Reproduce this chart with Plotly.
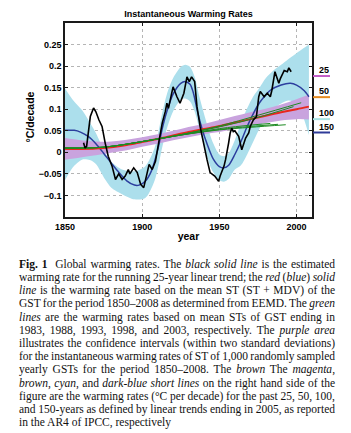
import plotly.graph_objects as go

# ---------------- data ----------------
# cyan band: confidence range of ST + MDV warming rate
cyan_years = [1850, 1855, 1861, 1866, 1870, 1876, 1880, 1887, 1895, 1902, 1908, 1913, 1916,
              1920, 1925, 1928, 1931, 1934, 1937, 1940, 1945, 1950, 1953, 1956, 1960, 1964,
              1968, 1972, 1976, 1980, 1985, 1990, 1995, 2000, 2004, 2008]
cyan_hi = [0.148, 0.122, 0.098, 0.070, 0.045, -0.001, -0.022, -0.040, -0.044, -0.032, 0.010,
           0.092, 0.135, 0.172, 0.198, 0.203, 0.198, 0.175, 0.130, 0.090, 0.030, -0.005,
           -0.009, -0.002, 0.028, 0.068, 0.102, 0.130, 0.150, 0.172, 0.190, 0.203, 0.217,
           0.230, 0.240, 0.250]
cyan_lo = [-0.065, -0.035, -0.017, -0.018, -0.027, -0.063, -0.082, -0.097, -0.109, -0.106,
           -0.066, 0.012, 0.055, 0.095, 0.122, 0.125, 0.118, 0.095, 0.055, 0.015, -0.040,
           -0.065, -0.068, -0.062, -0.040, -0.030, -0.005, 0.025, 0.055, 0.080, 0.100,
           0.113, 0.120, 0.113, 0.085, 0.040]

# blue: ST + MDV warming rate
blue_years = [1850, 1856, 1860, 1865, 1870, 1875, 1880, 1885, 1890, 1895, 1898, 1902, 1906,
              1910, 1913, 1916, 1920, 1925, 1928, 1931, 1933, 1936, 1939, 1942, 1946, 1950,
              1953, 1956, 1960, 1964, 1968, 1972, 1976, 1980, 1983, 1990, 1996, 2000, 2005, 2008]
blue_rate = [0.051, 0.051, 0.047, 0.037, 0.020, -0.002, -0.025, -0.047, -0.066, -0.076, -0.076,
             -0.067, -0.043, 0.005, 0.055, 0.095, 0.135, 0.160, 0.164, 0.158, 0.140, 0.092,
             0.052, 0.020, -0.015, -0.033, -0.036, -0.030, -0.005, 0.025, 0.060, 0.090, 0.115,
             0.133, 0.144, 0.156, 0.160, 0.156, 0.143, 0.129]

# red: ST warming rate and purple confidence area
st_years = [1850, 1860, 1870, 1880, 1890, 1900, 1910, 1920, 1930, 1940, 1950, 1960, 1970,
            1980, 1990, 2000, 2008]
red_rate = [0.008, 0.008, 0.009, 0.012, 0.017, 0.024, 0.031, 0.039, 0.047, 0.054, 0.061,
            0.069, 0.077, 0.085, 0.093, 0.100, 0.106]
purple_hi = [0.033, 0.028, 0.025, 0.025, 0.029, 0.035, 0.042, 0.050, 0.059, 0.066, 0.075,
             0.084, 0.093, 0.101, 0.111, 0.123, 0.134]
purple_lo = [-0.017, -0.012, -0.007, -0.001, 0.005, 0.013, 0.020, 0.028, 0.035, 0.042, 0.047,
             0.054, 0.062, 0.068, 0.074, 0.077, 0.076]

# green: ST warming rates of GST ending in 1983, 1988, 1993, 1998, 2003
green_1983_x = [1850, 1875, 1900, 1925, 1950, 1970, 1983]
green_1983_y = [0.010, 0.012, 0.025, 0.040, 0.055, 0.063, 0.067]
green_1988_x = [1850, 1875, 1900, 1925, 1950, 1970, 1988]
green_1988_y = [0.010, 0.012, 0.025, 0.040, 0.053, 0.060, 0.065]
green_1993_x = [1850, 1875, 1900, 1925, 1950, 1970, 1993]
green_1993_y = [0.010, 0.012, 0.025, 0.040, 0.052, 0.058, 0.064]
green_1998_x = [1850, 1875, 1900, 1925, 1950, 1975, 1998]
green_1998_y = [0.010, 0.012, 0.025, 0.041, 0.059, 0.081, 0.106]
green_2003_x = [1850, 1875, 1900, 1925, 1950, 1975, 2003]
green_2003_y = [0.010, 0.012, 0.025, 0.041, 0.061, 0.086, 0.115]

# black: running 25-year linear trend
black_years = [1862, 1863, 1864, 1865, 1866.4, 1868.5, 1870, 1872, 1874, 1876, 1878, 1880.5,
               1882.7, 1884.8, 1887, 1889, 1891, 1892, 1894.5, 1896.8, 1899, 1901, 1903,
               1904.5, 1906.5, 1908.6, 1910.8, 1913, 1915, 1916, 1917, 1919, 1920, 1922.5,
               1924.5, 1927, 1929, 1930.5, 1932, 1934, 1935.5, 1937.5, 1940, 1942, 1944,
               1947, 1949.5, 1950.5, 1953, 1954, 1956, 1957, 1958, 1959, 1960, 1962.5,
               1964.5, 1967, 1969, 1970, 1972, 1974, 1975.5, 1976.5, 1979, 1981, 1983, 1984,
               1986, 1988.5, 1989.5, 1992, 1994, 1995, 1996.5]
black_rate = [0.022, 0.010, 0.014, 0.045, 0.083, 0.103, 0.094, 0.075, 0.060, 0.022, -0.009,
              -0.032, -0.063, -0.050, -0.063, -0.055, -0.040, -0.050, -0.036, -0.047, -0.074,
              -0.082, -0.050, -0.028, -0.040, -0.021, 0.025, 0.068, 0.095, 0.114, 0.102,
              0.141, 0.152, 0.129, 0.114, 0.137, 0.175, 0.164, 0.175, 0.164, 0.106, 0.060,
              0.014, -0.017, -0.047, -0.055, -0.067, -0.055, -0.032, -0.017, 0.022, 0.045,
              0.056, 0.048, 0.050, 0.037, 0.006, 0.033, 0.045, 0.060, 0.075, 0.083, 0.129,
              0.141, 0.129, 0.137, 0.129, 0.144, 0.187, 0.160, 0.171, 0.190, 0.187, 0.196,
              0.187]

# IPCC AR4 rates (deg C / decade) for past 25, 50, 100, 150 years
ipcc_labels = ["25", "50", "100", "150"]
ipcc_rates = [0.177, 0.128, 0.077, 0.046]
ipcc_colors = ["#c25cc6", "#e58a1f", "#a8e4e4", "#2f3b98"]

x_ticks = [1850, 1900, 1950, 2000]
y_ticks = [-0.1, -0.05, 0, 0.05, 0.1, 0.15, 0.2, 0.25]
y_tick_text = ["\u22120.1", "\u22120.05", "0", "0.05", "0.1", "0.15", "0.2", "0.25"]

caption_lines = [
    "<b>Fig. 1</b>\u00a0 Global warming rates. The <i>black solid line</i> is the estimated",
    "warming rate for the running 25-year linear trend; the <i>red</i> (<i>blue</i>) <i>solid</i>",
    "<i>line</i> is the warming rate based on the mean ST (ST + MDV) of the",
    "GST for the period 1850\u20132008 as determined from EEMD. The <i>green</i>",
    "<i>lines</i> are the warming rates based on mean STs of GST ending in",
    "1983, 1988, 1993, 1998, and 2003, respectively. The <i>purple area</i>",
    "illustrates the confidence intervals (within two standard deviations)",
    "for the instantaneous warming rates of ST of 1,000 randomly sampled",
    "yearly GSTs for the period 1850\u20132008. The <i>brown</i> The <i>magenta</i>,",
    "<i>brown</i>, <i>cyan</i>, and <i>dark-blue short lines</i> on the right hand side of the",
    "figure are the warming rates (\u00b0C per decade) for the past 25, 50, 100,",
    "and 150-years as defined by linear trends ending in 2005, as reported",
    "in the AR4 of IPCC, respectively",
]

# ---------------- figure ----------------
W, H = 351, 433
L, R, T, B = 65, 39, 23, 216
plot_w = W - L - R
plot_h = H - T - B

CYAN = "#acdfec"
PURPLE = "#c9a3de"
BLUE = "#2c3e9e"
RED = "#e8281e"
GREEN = "#1d8a22"
SANS = "Liberation Sans, Arial, sans-serif"
SERIF = "Liberation Serif, Times New Roman, serif"

fig = go.Figure()

fig.add_trace(go.Scatter(x=cyan_years, y=cyan_lo, mode="lines",
                         line=dict(width=0, shape="spline", smoothing=0.8),
                         showlegend=False, hoverinfo="skip"))
fig.add_trace(go.Scatter(x=cyan_years, y=cyan_hi, mode="lines",
                         line=dict(width=0, shape="spline", smoothing=0.8),
                         fill="tonexty", fillcolor=CYAN, showlegend=False, hoverinfo="skip"))
fig.add_trace(go.Scatter(x=st_years, y=purple_lo, mode="lines",
                         line=dict(width=0, shape="spline"),
                         showlegend=False, hoverinfo="skip"))
fig.add_trace(go.Scatter(x=st_years, y=purple_hi, mode="lines",
                         line=dict(width=0, shape="spline"),
                         fill="tonexty", fillcolor=PURPLE, showlegend=False, hoverinfo="skip"))

fig.add_trace(go.Scatter(x=blue_years, y=blue_rate, mode="lines",
                         line=dict(color=BLUE, width=1.5, shape="spline", smoothing=0.8),
                         showlegend=False))
fig.add_trace(go.Scatter(x=st_years, y=red_rate, mode="lines",
                         line=dict(color=RED, width=2, shape="spline"), showlegend=False))
for gx, gy in [(green_1983_x, green_1983_y), (green_1988_x, green_1988_y),
               (green_1993_x, green_1993_y), (green_1998_x, green_1998_y),
               (green_2003_x, green_2003_y)]:
    fig.add_trace(go.Scatter(x=gx, y=gy, mode="lines",
                             line=dict(color=GREEN, width=1, shape="spline"),
                             showlegend=False))
fig.add_trace(go.Scatter(x=black_years, y=black_rate, mode="lines",
                         line=dict(color="black", width=1.6), showlegend=False))

# right-hand IPCC short lines and labels
x0p = (313 - L) / plot_w
x1p = (330 - L) / plot_w
xlab = (317 - L) / plot_w
for lab, v, c in zip(ipcc_labels, ipcc_rates, ipcc_colors):
    fig.add_shape(type="line", xref="paper", yref="y", x0=x0p, x1=x1p, y0=v, y1=v,
                  line=dict(color=c, width=2))
    fig.add_annotation(xref="paper", yref="y", x=xlab, y=v, yshift=6,
                       text=lab, showarrow=False, xanchor="left", yanchor="middle",
                       font=dict(family=SANS, size=9, color="black", weight="bold"))

# y-axis title (placed as rotated text, like the reference)
fig.add_annotation(xref="paper", yref="paper", x=(29 - L) / plot_w,
                   y=(H - B - 117.5) / plot_h, text="\u00b0C/decade", textangle=-90,
                   showarrow=False, xanchor="center", yanchor="middle",
                   font=dict(family=SANS, size=10.5, color="black", weight="bold"))

# caption
cap_x = (17 - L) / plot_w
for i, line in enumerate(caption_lines):
    ypix = 264.3 + 13.2 * i
    fig.add_annotation(xref="paper", yref="paper", x=cap_x, y=(H - B - ypix) / plot_h,
                       text=line, showarrow=False, xanchor="left", yanchor="middle",
                       align="left", font=dict(family=SERIF, size=11.5, color="#111"))

axis_common = dict(showline=True, linecolor="#1a1a1a", linewidth=1.5, mirror="ticks",
                   ticks="inside", ticklen=3, tickcolor="#1a1a1a",
                   showgrid=True, gridcolor="#b5b5b5", griddash="dot", gridwidth=1,
                   zeroline=False,
                   tickfont=dict(family=SANS, size=9, color="black", weight="bold"))

fig.update_xaxes(range=[1850, 2010], tickvals=x_ticks,
                 title=dict(text="year", standoff=2,
                            font=dict(family=SANS, size=10.5, color="black", weight="bold")),
                 **axis_common)
fig.update_yaxes(range=[-0.15, 0.3], tickvals=y_ticks, ticktext=y_tick_text,
                 **axis_common)

fig.update_layout(
    width=W, height=H,
    margin=dict(l=L, r=R, t=T, b=B, autoexpand=False),
    paper_bgcolor="white", plot_bgcolor="white",
    title=dict(text="Instantaneous Warming Rates", x=(L + plot_w / 2) / W, xanchor="center",
               y=1 - 14 / H, yanchor="middle", yref="container",
               font=dict(family=SANS, size=9, color="black", weight="bold")),
    showlegend=False,
)

post = """
var gd = document.getElementById('{plot_id}');
var TARGET = 316;
var texts = gd.querySelectorAll('text.annotation-text');
texts.forEach(function(t){
  var ff = (t.style && t.style.fontFamily) || '';
  if (ff.indexOf('Serif') < 0) return;
  var w = t.getComputedTextLength();
  var s = t.textContent;
  var n = (s.match(/[ \\u00a0]/g) || []).length;
  if (n === 0 || w < TARGET * 0.8) return;
  t.style.wordSpacing = ((TARGET - w) / n) + 'px';
});
"""

fig.write_html("out.html", include_plotlyjs=True, full_html=True, post_script=post,
               config={"displayModeBar": False})
